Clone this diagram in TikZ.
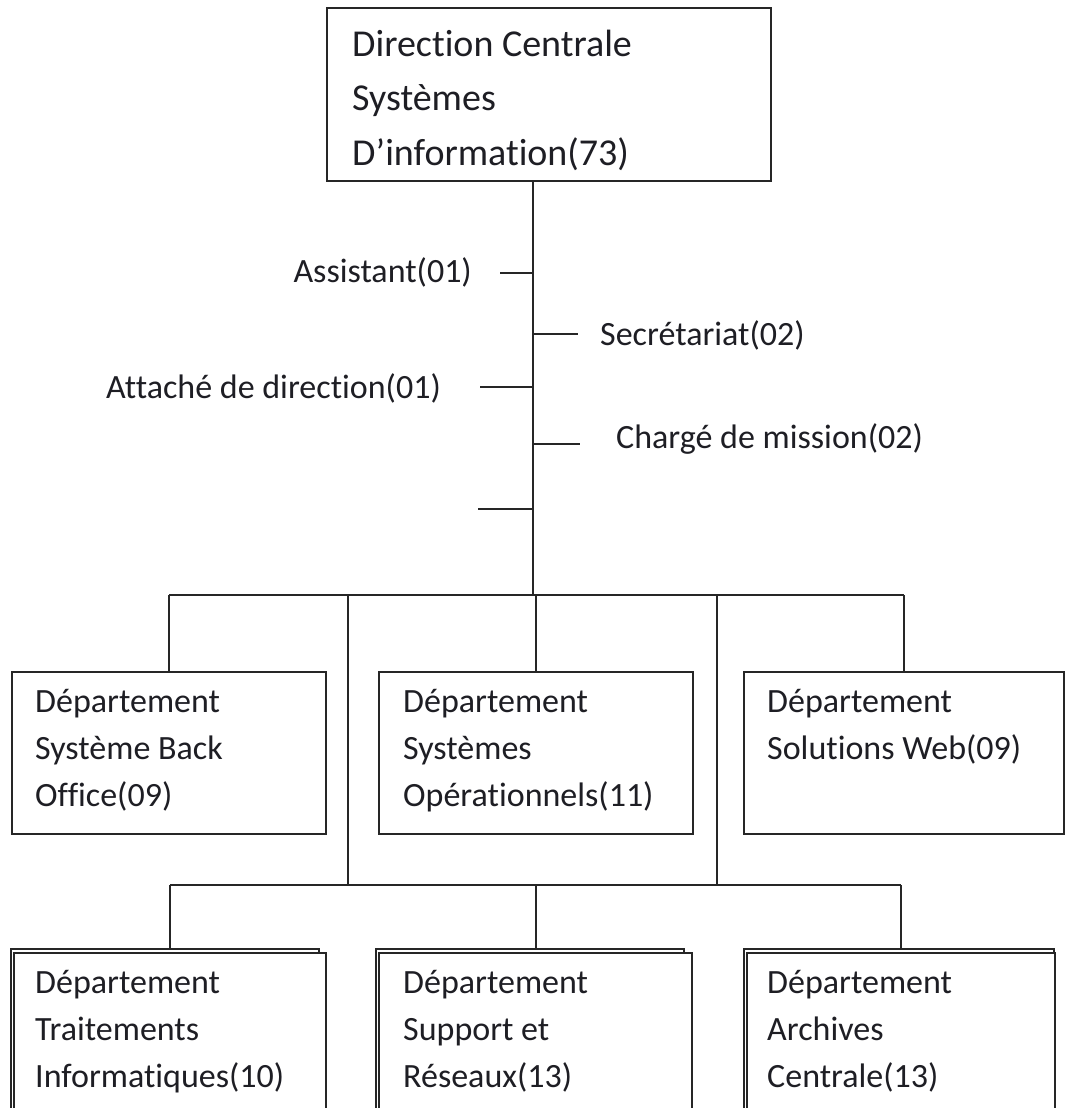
\documentclass[tikz,border=0pt]{standalone}
\usepackage{fontspec}
\setmainfont{Carlito}[Ligatures=NoCommon]
\usepackage{xcolor}
\usepackage{tikz}
\definecolor{TraitOrga}{RGB}{38,38,38}
\definecolor{TexteOrga}{RGB}{30,30,36}

\tikzset{
  boite/.style={draw=TraitOrga, line width=2pt, fill=white, anchor=north west, inner sep=0pt},
  texte/.style={text=TexteOrga, font=\fontsize{34}{47}\selectfont, align=left, text width=300pt,
    inner sep=0pt, anchor=base west, execute at begin node={\spaceskip=0pt\xspaceskip=0pt\relax}},
  poste/.style={text=TexteOrga, font=\fontsize{34}{47}\selectfont, inner sep=0pt},
  lien/.style={draw=TraitOrga, line width=2pt},
}

\begin{document}
\begin{tikzpicture}[x=1pt,y=-1pt]
  \useasboundingbox (0,0) rectangle (1072,1108);
  \clip (0,0) rectangle (1072,1108);

  % direction centrale
  \node[boite, minimum width=444pt, minimum height=173pt] (dcsi) at (326,7) {};
  \node[texte, font=\fontsize{38}{54}\selectfont, text width=400pt] (t-dcsi) at (352,57) {Direction Centrale\\Systèmes\\D’information(73)};

  % tronc et postes rattaches
  \coordinate (tronc) at (533,595);
  \draw[lien] (dcsi.south -| tronc) -- (tronc);

  \node[poste, anchor=base east] (assist) at (472,282) {Assistant(01)};
  \coordinate (c-assist) at (500,273);
  \draw[lien] (c-assist) -- (c-assist -| tronc);

  \node[poste, anchor=base west] (secr) at (600,345) {Secrétariat(02)};
  \coordinate (c-secr) at (578,334);
  \draw[lien] (c-secr -| tronc) -- (c-secr);

  \node[poste, anchor=base east] (attache) at (441,398) {Attaché de direction(01)};
  \coordinate (c-attache) at (480,387);
  \draw[lien] (c-attache) -- (c-attache -| tronc);

  \node[poste, anchor=base west] (charge) at (616,448) {Chargé de mission(02)};
  \coordinate (c-charge) at (580,444);
  \draw[lien] (c-charge -| tronc) -- (c-charge);

  \coordinate (c-vide) at (478,509);
  \draw[lien] (c-vide) -- (c-vide -| tronc);

  % premier niveau
  \node[boite, minimum width=314pt, minimum height=162pt] (sbo) at (11,671) {};
  \node[texte] (t-sbo) at (35,712) {Département\\Système Back\\Office(09)};
  \node[boite, minimum width=314pt, minimum height=162pt] (sop) at (378,671) {};
  \node[texte] (t-sop) at (403,712) {Département\\Systèmes\\Opérationnels(11)};
  \node[boite, minimum width=320pt, minimum height=162pt] (sweb) at (743,671) {};
  \node[texte] (t-sweb) at (767,712) {Département\\Solutions Web(09)};

  \draw[lien] (sbo.north |- tronc) -- (sweb.north |- tronc);
  \foreach \b in {sbo,sop,sweb}
    \draw[lien] (\b.north |- tronc) -- (\b.north);

  \coordinate (relais-g) at (348,885);
  \coordinate (relais-d) at (717,885);
  \draw[lien] (relais-g |- tronc) -- (relais-g);
  \draw[lien] (relais-d |- tronc) -- (relais-d);

  % second niveau
  \node[boite, minimum width=308pt, minimum height=170pt] (ti-fond) at (10,948) {};
  \node[boite, minimum width=312pt, minimum height=162pt] (ti) at (13,952) {};
  \node[texte] (t-ti) at (35,993) {Département\\Traitements\\Informatiques(10)};

  \node[boite, minimum width=308pt, minimum height=170pt] (sr-fond) at (375,948) {};
  \node[boite, minimum width=313pt, minimum height=162pt] (sr) at (378,952) {};
  \node[texte] (t-sr) at (403,993) {Département\\Support et\\Réseaux(13)};

  \node[boite, minimum width=310pt, minimum height=170pt] (ac-fond) at (743,948) {};
  \node[boite, minimum width=308pt, minimum height=162pt] (ac) at (746,952) {};
  \node[texte] (t-ac) at (767,993) {Département\\Archives\\Centrale(13)};

  \draw[lien] (ti.north |- relais-g) -- (ac.north |- relais-g);
  \foreach \b in {ti,sr,ac}
    \draw[lien] (\b.north |- relais-g) -- (\b-fond.north -| \b.north);
\end{tikzpicture}
\end{document}
